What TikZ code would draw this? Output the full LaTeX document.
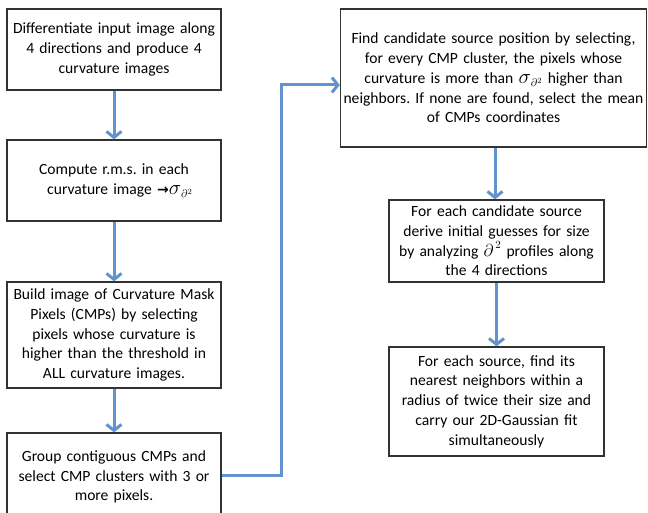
\documentclass[tikz,border=0pt]{standalone}
\usepackage{amsmath,amssymb}
\usepackage{fontspec}
\setmainfont{Carlito}
\newfontfamily\arrowfont{DejaVu Sans}
\usetikzlibrary{arrows.meta,calc,positioning}
\definecolor{flowblue}{RGB}{98,147,205}
\definecolor{boxline}{RGB}{50,50,50}
\tikzset{
  stepbox/.style={draw=boxline,line width=1.3pt,fill=white,align=center,inner sep=1pt,
    font=\fontsize{15.6}{19.7}\selectfont\frenchspacing},
  flowarrow/.style={draw=flowblue,line width=3pt,
    -{Straight Barb[length=6pt,width=15pt,line width=3pt]}}
}
\newcommand{\sigmad}{\text{\fontsize{21}{21}\selectfont$\sigma$}_{\partial^2}}
\newcommand{\bigpartial}{\text{\fontsize{18}{18}\selectfont$\partial$}^{\,2}}

\begin{document}
\begin{tikzpicture}[x=1pt,y=-1pt]
\useasboundingbox (0,0) rectangle (648,513);
\begin{scope}
\clip (0,0) rectangle (648,513);
% left column
\node[stepbox,minimum width=214pt,minimum height=81pt,text width=212pt] (diff) at (114,49.5)
  {Differentiate input image along\\ 4 directions and produce 4\\ curvature images};
\node[stepbox,minimum width=214pt,minimum height=81pt,text width=212pt] (rms) at (114,180.5)
  {Compute r.m.s. in each\\ \hspace*{12pt}curvature image {\arrowfont\bfseries\fontsize{14}{14}\selectfont →}$\sigmad$};
\node[stepbox,minimum width=214pt,minimum height=106pt,text width=212pt] (mask) at (114,335)
  {Build image of Curvature Mask\\ Pixels (CMPs) by selecting\\ pixels whose curvature is\\
   higher than the threshold in\\ ALL curvature images.};
\node[stepbox,minimum width=214pt,minimum height=88pt,text width=212pt] (group) at (114,477)
  {Group contiguous CMPs and\\ select CMP clusters with 3 or\\ more pixels.};
% right column
\node[stepbox,minimum width=306pt,minimum height=138pt,text width=304pt] (find) at (493.5,78)
  {Find candidate source position by selecting,\\ for every CMP cluster, the pixels whose\\
   curvature is more than $\sigmad$ higher than\\ neighbors. If none are found, select the mean\\
   of CMPs coordinates};
\node[stepbox,minimum width=215pt,minimum height=82pt,text width=213pt] (size) at (496.5,241)
  {For each candidate source\\ derive initial guesses for size\\
   by analyzing $\bigpartial$ profiles along\\ the 4 directions};
\node[stepbox,minimum width=215pt,minimum height=109pt,text width=213pt] (fit) at (496.5,401.5)
  {For each source, find its\\ nearest neighbors within a\\ radius of twice their size and\\
   carry our 2D-Gaussian fit\\ simultaneously};
\end{scope}

\coordinate (bend) at (281,85);
\draw[flowarrow] (diff.south) -- (rms.north);
\draw[flowarrow] (rms.south) -- (mask.north);
\draw[flowarrow] (mask.south) -- (group.north);
\draw[flowarrow] ($(group.east)+(0,-2)$) -| (bend) -- (bend -| find.west);
\draw[flowarrow] ($(find.south)+(1.5,0)$) -- ($(size.north)+(-1.5,0)$);
\draw[flowarrow] (size.south) -- (fit.north);
\end{tikzpicture}
\end{document}
